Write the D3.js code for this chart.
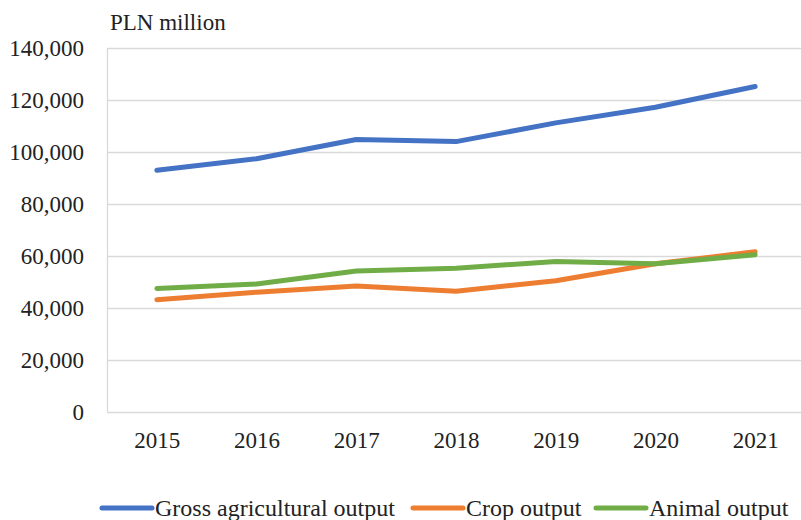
<!DOCTYPE html>
<html>
<head>
<meta charset="utf-8">
<script src="https://cdn.jsdelivr.net/npm/d3@7"></script>
<style>
  body { margin: 0; background: #fff; }
  svg text { font-family: "Liberation Serif", "Times New Roman", serif; fill: #222; }
</style>
</head>
<body>
<svg id="chart" width="801" height="520"></svg>
<script>
// chart data (PLN million)
var years = ["2015", "2016", "2017", "2018", "2019", "2020", "2021"];
var grossOutput = [93000, 97400, 104800, 104000, 111200, 117200, 125200];
var cropOutput = [43200, 46100, 48500, 46400, 50500, 57000, 61600];
var animalOutput = [47500, 49200, 54200, 55300, 57900, 57000, 60500];
var yTicks = [0, 20000, 40000, 60000, 80000, 100000, 120000, 140000];
var seriesNames = ["Gross agricultural output", "Crop output", "Animal output"];

var series = [
    { name: seriesNames[0], values: grossOutput, color: "#4472C4" },
    { name: seriesNames[1], values: cropOutput, color: "#ED7D31" },
    { name: seriesNames[2], values: animalOutput, color: "#70AD47" }
];

var svg = d3.select("#chart");

// plot area edges (note: "top" is taken by window.top, so use plot*)
var plotLeft = 107, plotRight = 805, plotTop = 48, plotBottom = 412;

// x is categorical, points sit in the middle of each band
var x = d3.scalePoint()
    .domain(years)
    .range([plotLeft, plotRight])
    .padding(0.5);

var y = d3.scaleLinear()
    .domain([0, 140000])
    .range([plotBottom, plotTop]);

var fmt = d3.format(",");

// gridlines
svg.append("g")
    .selectAll("line")
    .data(yTicks)
    .join("line")
    .attr("x1", plotLeft)
    .attr("x2", plotRight)
    .attr("y1", function(d) { return Math.round(y(d)) + 0.5; })
    .attr("y2", function(d) { return Math.round(y(d)) + 0.5; })
    .style("stroke", "#d9d9d9")
    .style("stroke-width", 1.3);

// vertical axis line
svg.append("line")
    .attr("x1", plotLeft + 0.5).attr("x2", plotLeft + 0.5)
    .attr("y1", plotTop).attr("y2", plotBottom)
    .style("stroke", "#d9d9d9")
    .style("stroke-width", 1.3);

// y tick labels
var yAxis = svg.append("g")
    .attr("transform", "translate(" + (plotLeft - 23) + ",0)")
    .call(d3.axisLeft(y).tickValues(yTicks).tickFormat(fmt).tickSize(0).tickPadding(0));
yAxis.select(".domain").remove();
yAxis.selectAll("text")
    .style("font-size", "23px")
    .style("font-family", "'Liberation Serif', 'Times New Roman', serif")
    .attr("fill", "#222")
    .attr("dy", "0.34em");

// x tick labels
var xAxis = svg.append("g")
    .attr("transform", "translate(0," + (plotBottom + 20) + ")")
    .call(d3.axisBottom(x).tickSize(0).tickPadding(0));
xAxis.select(".domain").remove();
xAxis.selectAll("text")
    .style("font-size", "23px")
    .style("font-family", "'Liberation Serif', 'Times New Roman', serif")
    .attr("fill", "#222")
    .attr("dy", "0.71em");

// unit label
svg.append("text")
    .attr("x", 110)
    .attr("y", 30)
    .style("font-size", "23px")
    .text("PLN million");

// the lines
var line = d3.line()
    .x(function(d, i) { return x(years[i]); })
    .y(function(d) { return y(d); });

svg.append("g")
    .selectAll("path")
    .data(series)
    .join("path")
    .attr("d", function(d) { return line(d.values); })
    .style("fill", "none")
    .style("stroke", function(d) { return d.color; })
    .style("stroke-width", 5)
    .style("stroke-linecap", "round")
    .style("stroke-linejoin", "round");

// legend
var legendX = [102, 413, 596];
var legend = svg.append("g")
    .selectAll("g")
    .data(series)
    .join("g")
    .attr("transform", function(d, i) { return "translate(" + legendX[i] + ",508)"; });

legend.append("line")
    .attr("x1", 0).attr("x2", 50)
    .attr("y1", 0).attr("y2", 0)
    .style("stroke", function(d) { return d.color; })
    .style("stroke-width", 5)
    .style("stroke-linecap", "round");

legend.append("text")
    .attr("x", 53)
    .attr("y", 8)
    .style("font-size", "24px")
    .text(function(d) { return d.name; });
</script>
</body>
</html>
